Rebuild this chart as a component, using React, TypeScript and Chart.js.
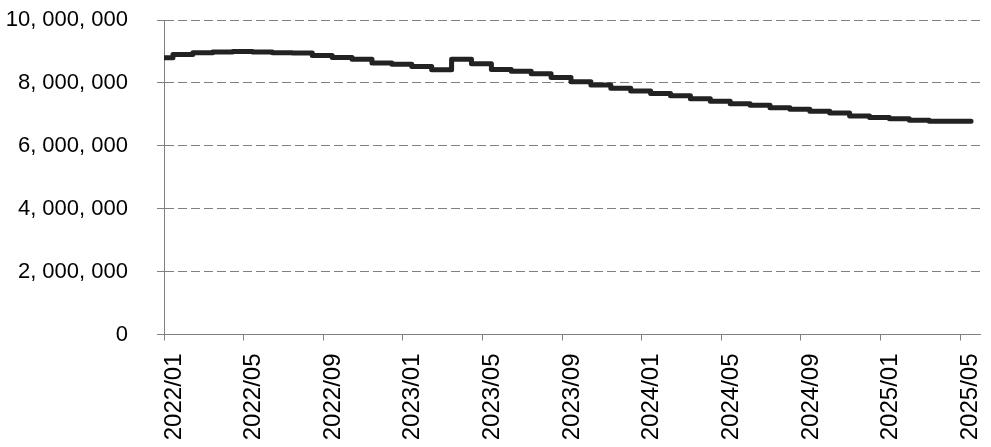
import React, { useEffect, useRef } from "react";
import { Chart, registerables } from "chart.js";

Chart.register(...registerables);

// Tick labels on the month axis (every 4 months, month index 0 = 2022/01)
const xTickLabels = [
  "2022/01", "2022/05", "2022/09", "2023/01", "2023/05", "2023/09",
  "2024/01", "2024/05", "2024/09", "2025/01", "2025/05",
];
const xTickStep = 4;
const monthCount = 41; // 2022/01 .. 2025/05

// Level in force after each mid-month change (first value = level at 2022/01 start)
const levels = [
  8800000, 8900000, 8960000, 8980000, 9000000, 8980000, 8960000, 8950000,
  8870000, 8810000, 8750000, 8630000, 8590000, 8520000, 8420000, 8750000,
  8610000, 8430000, 8370000, 8290000, 8170000, 8040000, 7930000, 7830000,
  7740000, 7660000, 7590000, 7500000, 7420000, 7340000, 7290000, 7210000,
  7160000, 7100000, 7040000, 6950000, 6900000, 6860000, 6810000, 6780000,
  6780000,
];
// Fraction of the month at which each change takes effect, and where the series ends
const changeOffset = 0.45;
const seriesEnd = 40.55;

const yTicks = [0, 2000000, 4000000, 6000000, 8000000, 10000000];

const fmt = (v: number) => v.toLocaleString("en-US").replace(/,/g, ", ");

const zeroPad = (s: any) => {
  s.paddingTop = 0;
  s.paddingBottom = 0;
  s.paddingLeft = 0;
  s.paddingRight = 0;
};

export default function App() {
  const ref = useRef<HTMLCanvasElement | null>(null);

  useEffect(() => {
    if (!ref.current) return;
    const pts: { x: number; y: number }[] = [{ x: 0, y: levels[0] }];
    for (let k = 1; k < levels.length; k++) {
      pts.push({ x: k - 1 + changeOffset, y: levels[k] });
    }
    pts.push({ x: seriesEnd, y: levels[levels.length - 1] });

    const chart = new Chart(ref.current, {
      type: "line",
      data: {
        datasets: [
          {
            data: pts,
            borderColor: "#222222",
            borderWidth: 5,
            stepped: "before",
            pointRadius: 0,
            borderCapStyle: "round",
            borderJoinStyle: "round",
            fill: false,
          },
        ],
      },
      options: {
        animation: false,
        responsive: false,
        devicePixelRatio: 1,
        layout: { padding: { top: 20, right: 11, left: 0, bottom: 0 } },
        plugins: { legend: { display: false }, tooltip: { enabled: false } },
        scales: {
          x: {
            type: "linear",
            min: 0,
            max: monthCount,
            afterFit: (s: any) => {
              s.height = 112.5;
              zeroPad(s);
            },
            ticks: {
              stepSize: xTickStep,
              includeBounds: false,
              autoSkip: false,
              maxRotation: 90,
              minRotation: 90,
              labelOffset: 10,
              padding: 13,
              color: "#000",
              font: { family: "'Liberation Sans', Arial, sans-serif", size: 24 },
              callback: (v: any) => {
                const i = Math.round(Number(v) / xTickStep);
                return xTickLabels[i] ?? "";
              },
            },
            grid: {
              drawOnChartArea: false,
              drawTicks: true,
              tickLength: 6,
              tickColor: "#808080",
              tickWidth: 1,
            },
            border: { color: "#808080", width: 1 },
          },
          y: {
            min: 0,
            max: 10000000,
            afterFit: (s: any) => {
              s.width = 164;
              zeroPad(s);
            },
            afterBuildTicks: (s: any) => {
              s.ticks = yTicks.map((v) => ({ value: v }));
            },
            ticks: {
              padding: 29,
              color: "#000",
              font: { family: "'Liberation Sans', Arial, sans-serif", size: 22 },
              callback: (v: any) => fmt(Number(v)),
            },
            grid: {
              color: "#808080",
              lineWidth: 1,
              tickLength: 7,
              tickColor: "#808080",
              tickWidth: 1,
            },
            border: { color: "#808080", width: 1, dash: [9, 4] },
          },
        },
      },
    });
    return () => chart.destroy();
  }, []);

  return (
    <div style={{ position: "fixed", left: 0, top: 0, width: 991, height: 447, background: "#fff" }}>
      <canvas ref={ref} width={991} height={447} style={{ width: 991, height: 447, display: "block" }} />
    </div>
  );
}
